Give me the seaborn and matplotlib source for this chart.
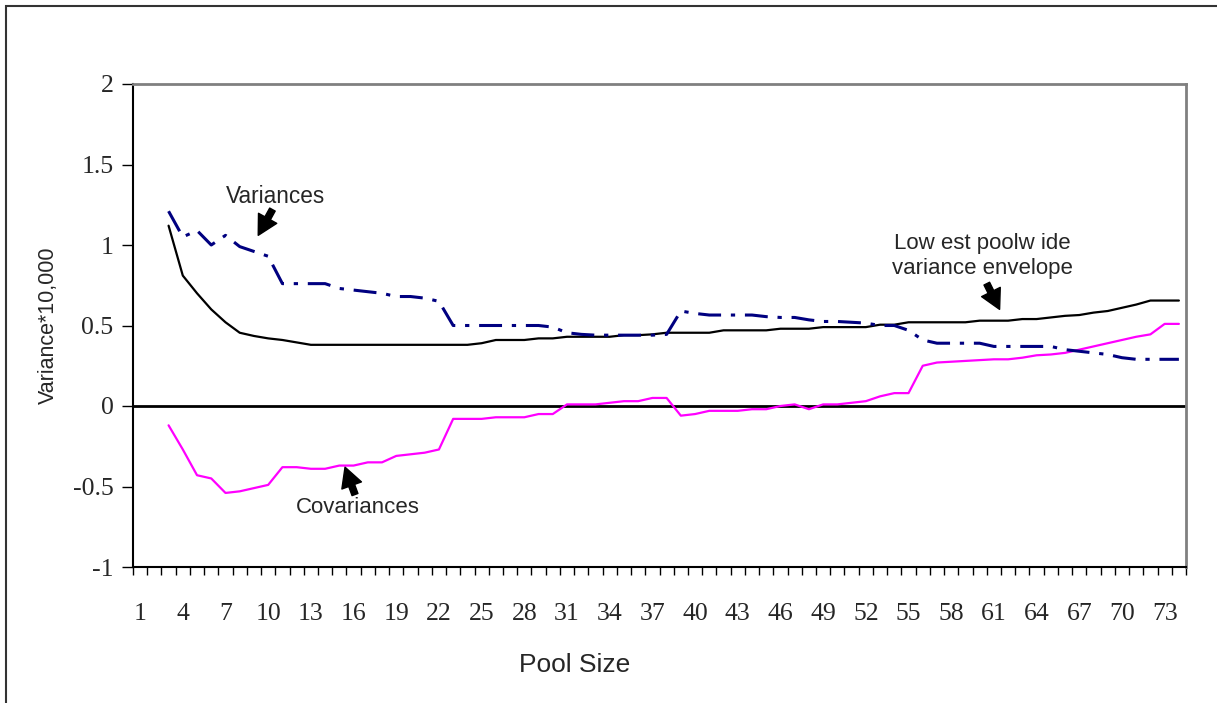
import numpy as np
import pandas as pd
import matplotlib
matplotlib.use('Agg')
import matplotlib.pyplot as plt
import seaborn as sns
from matplotlib.patches import Rectangle

# pool sizes 1..74, series start at pool size 3
pool_sizes = list(range(1, 75))

envelope = [1.12, 0.81, 0.70, 0.60, 0.52, 0.455, 0.435, 0.42, 0.41, 0.395, 0.38,
            0.38, 0.38, 0.38, 0.38, 0.38, 0.38, 0.38, 0.38, 0.38, 0.38, 0.38,
            0.39, 0.41, 0.41, 0.41, 0.42, 0.42, 0.43, 0.43, 0.43, 0.43,
            0.44, 0.44, 0.445, 0.455, 0.455, 0.455, 0.455, 0.47, 0.47, 0.47,
            0.47, 0.48, 0.48, 0.48, 0.49, 0.49, 0.49, 0.49, 0.505, 0.505,
            0.52, 0.52, 0.52, 0.52, 0.52, 0.53, 0.53, 0.53, 0.54, 0.54,
            0.55, 0.56, 0.565, 0.58, 0.59, 0.61, 0.63, 0.655, 0.655, 0.655]

variances = [1.21, 1.05, 1.09, 1.00, 1.06, 0.99, 0.96, 0.93, 0.76, 0.76, 0.76,
             0.76, 0.73, 0.72, 0.71, 0.70, 0.68, 0.68, 0.67, 0.65, 0.50, 0.50,
             0.50, 0.50, 0.50, 0.50, 0.50, 0.49, 0.455, 0.445, 0.44, 0.44,
             0.44, 0.44, 0.44, 0.445, 0.59, 0.575, 0.565, 0.565, 0.565, 0.565,
             0.555, 0.55, 0.55, 0.535, 0.525, 0.525, 0.52, 0.515, 0.50, 0.50,
             0.47, 0.41, 0.39, 0.39, 0.39, 0.39, 0.37, 0.37, 0.37, 0.37,
             0.37, 0.35, 0.34, 0.33, 0.32, 0.30, 0.29, 0.29, 0.29, 0.29]

covariances = [-0.12, -0.27, -0.43, -0.45, -0.54, -0.53, -0.51, -0.49, -0.38, -0.38, -0.39,
               -0.39, -0.37, -0.37, -0.35, -0.35, -0.31, -0.30, -0.29, -0.27, -0.08, -0.08,
               -0.08, -0.07, -0.07, -0.07, -0.05, -0.05, 0.01, 0.01, 0.01, 0.02,
               0.03, 0.03, 0.05, 0.05, -0.06, -0.05, -0.03, -0.03, -0.03, -0.02,
               -0.02, 0.00, 0.01, -0.02, 0.01, 0.01, 0.02, 0.03, 0.06, 0.08,
               0.08, 0.25, 0.27, 0.275, 0.28, 0.285, 0.29, 0.29, 0.30, 0.315,
               0.32, 0.33, 0.35, 0.37, 0.39, 0.41, 0.43, 0.445, 0.51, 0.51]

y_ticks = [-1, -0.5, 0, 0.5, 1, 1.5, 2]
y_tick_labels = ['-1', '-0.5', '0', '0.5', '1', '1.5', '2']

pad = [np.nan, np.nan]
df = pd.DataFrame({
    'pos': np.arange(len(pool_sizes)),
    'pool': pool_sizes,
    'envelope': pad + envelope,
    'variances': pad + variances,
    'covariances': pad + covariances,
})

sns.set_style('white')
plt.rcParams['font.family'] = ['Liberation Sans', 'DejaVu Sans']

fig = plt.figure(figsize=(12.17, 7.03), dpi=100)
ax = fig.add_axes([133 / 1217, 1 - 567 / 703, (1186 - 133) / 1217, (567 - 84) / 703])

ax.axhline(0, color='black', lw=2, zorder=1)
sns.lineplot(data=df, x='pos', y='envelope', color='black', lw=1.6, ax=ax)
sns.lineplot(data=df, x='pos', y='covariances', color='#FF00FF', lw=1.6, ax=ax)
sns.lineplot(data=df, x='pos', y='variances', color='#000080', lw=2.2, ax=ax)
# dash-dot pattern (units of linewidth)
ax.lines[-1].set_dashes([7.5, 3.2, 1.4, 3.2])

ax.set_xlim(-0.5, len(pool_sizes) - 0.5)
ax.set_ylim(-1, 2)

# category labels every 3rd pool size, tick marks between categories
ax.set_xticks(df['pos'][::3])
ax.set_xticklabels([str(p) for p in df['pool'][::3]], family='Liberation Serif', fontsize=18.5)
ax.set_xticks(np.arange(-0.5, len(pool_sizes)), minor=True)
ax.tick_params(axis='x', which='major', length=0, pad=26)
ax.tick_params(axis='x', which='minor', length=6, width=1, color='black', direction='out', bottom=True)

ax.set_yticks(y_ticks)
ax.set_yticklabels(y_tick_labels, family='Liberation Serif', fontsize=18.5)
ax.tick_params(axis='y', length=8, width=1, color='black', direction='out', left=True, pad=6)

ax.set_xlabel('Pool Size', fontsize=19)
ax.xaxis.set_label_coords(0.419, -0.178)
ax.set_ylabel('Variance*10,000', fontsize=15.5)
ax.yaxis.set_label_coords(-0.070, 0.5)

for side in ['left', 'bottom']:
    ax.spines[side].set_color('black')
    ax.spines[side].set_linewidth(1.5)
for side in ['top', 'right']:
    ax.spines[side].set_color('#808080')
    ax.spines[side].set_linewidth(2)

arrow = dict(facecolor='black', edgecolor='black', width=4.5, headwidth=15, headlength=14, shrink=0)
ax.annotate('', xy=(8.3, 1.06), xytext=(9.3, 1.22), arrowprops=arrow)
ax.text(9.5, 1.30, 'Variances', ha='center', va='center', fontsize=16.3)
ax.annotate('', xy=(14.4, -0.38), xytext=(15.1, -0.55), arrowprops=arrow)
ax.text(15.3, -0.63, 'Covariances', ha='center', va='center', fontsize=16)
ax.annotate('', xy=(60.4, 0.60), xytext=(59.5, 0.76), arrowprops=arrow)
ax.text(59.2, 0.93, 'Low est poolw ide\nvariance envelope', ha='center', va='center',
        fontsize=16, linespacing=1.25)

fig.patches.append(Rectangle((6 / 1217, -0.1), 1.2, 1 - 6 / 703 + 0.1, transform=fig.transFigure,
                             fill=False, edgecolor='#333333', lw=1.5))

fig.savefig('out.png', dpi=100)
